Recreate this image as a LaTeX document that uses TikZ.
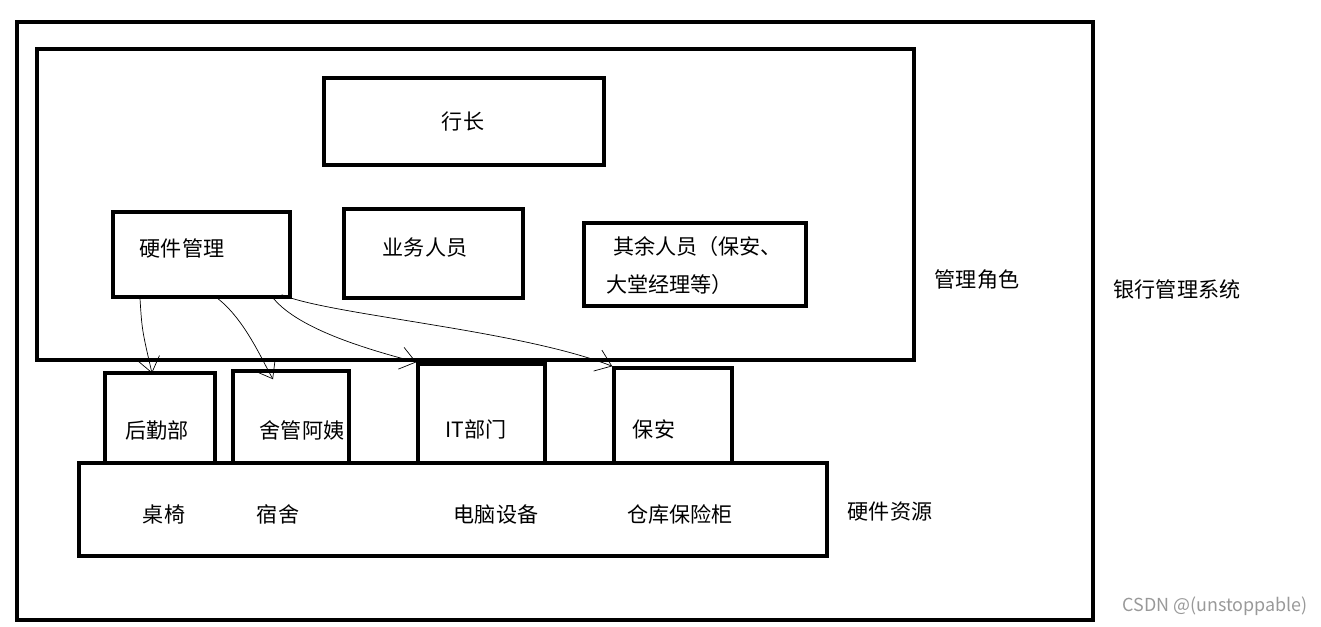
\documentclass[tikz,border=0pt]{standalone}
\usepackage{fontspec}
\setmainfont{Noto Sans CJK SC}
\usetikzlibrary{arrows.meta}

\tikzset{
  box/.style = {draw, line width=2pt, inner sep=0pt},
  txt/.style = {font=\fontsize{12}{14}\selectfont, inner sep=1pt},
  link/.style = {->, line width=0.4pt}
}

\begin{document}
\begin{tikzpicture}[x=0.02cm, y=-0.02cm, >={Straight Barb[length=3mm,width=4.5mm]}]

\useasboundingbox (0,0) rectangle (1321,626);

% outer frames
\node[box, minimum width=21.52cm, minimum height=11.96cm] (sys) at (555,321) {};
\node[box, minimum width=17.54cm, minimum height=6.22cm] (mgmt) at (475.5,204.5) {};

% management roles
\node[box, minimum width=5.6cm, minimum height=1.74cm] (chief) at (464,121.5) {};
\node[box, minimum width=3.54cm, minimum height=1.7cm] (hw) at (201.5,254.5) {};
\node[box, minimum width=3.58cm, minimum height=1.78cm] (biz) at (433.5,253.5) {};
\node[box, minimum width=4.44cm, minimum height=1.66cm] (other) at (695,264.5) {};

% departments
\node[box, minimum width=2.2cm, minimum height=1.8cm] (logi) at (160,418) {};
\node[box, minimum width=2.32cm, minimum height=1.84cm] (dorm) at (291,417) {};
\node[box, minimum width=2.54cm, minimum height=1.98cm] (it) at (481.5,413.5) {};
\node[box, minimum width=2.36cm, minimum height=1.9cm] (guard) at (673,415.5) {};

% resources
\node[box, minimum width=14.96cm, minimum height=1.86cm] (res) at (453,509.5) {};

% texts
\node[txt] (chief-t) at (463,122) {行长};
\node[txt] (hw-t) at (182,248) {硬件管理};
\node[txt] (biz-t) at (425,248) {业务人员};
\node[txt, anchor=west] (other-t1) at (611,246) {其余人员（保安、};
\node[txt, anchor=west] (other-t2) at (604,284) {大堂经理等）};
\node[txt] (logi-t) at (157,430) {后勤部};
\node[txt] (dorm-t) at (302,430) {舍管阿姨};
\node[txt] (it-t) at (476,429) {IT部门};
\node[txt] (guard-t) at (654,429) {保安};
\node[txt] (desk-t) at (164,514) {桌椅};
\node[txt] (room-t) at (278,514) {宿舍};
\node[txt] (pc-t) at (496,514) {电脑设备};
\node[txt] (safe-t) at (680,514) {仓库保险柜};
\node[txt] (res-t) at (890,512) {硬件资源};
\node[txt] (mgmt-t) at (977,280) {管理角色};
\node[txt] (sys-t) at (1177,289) {银行管理系统};
\node[font=\fontsize{10.2}{12}\selectfont, text=gray!80] (mark) at (1215,606) {CSDN @(unstoppable)};

% hand drawn links
\draw[link] ([xshift=-1.23cm]hw.south) .. controls (142,330) .. ([xshift=-0.16cm,yshift=-0.04cm]logi.north);
\draw[link] ([xshift=0.33cm]hw.south) .. controls (245,320) and (262,360) .. ([xshift=-0.36cm,yshift=-0.2cm]dorm.north);
\draw[link] ([xshift=-0.36cm]hw.south east) .. controls (300,330) and (370,350) .. (it.north west);
\draw[link] ([xshift=-0.2cm,yshift=0.08cm]hw.south east) .. controls (330,315) and (520,330) .. (guard.north west);

\end{tikzpicture}
\end{document}
